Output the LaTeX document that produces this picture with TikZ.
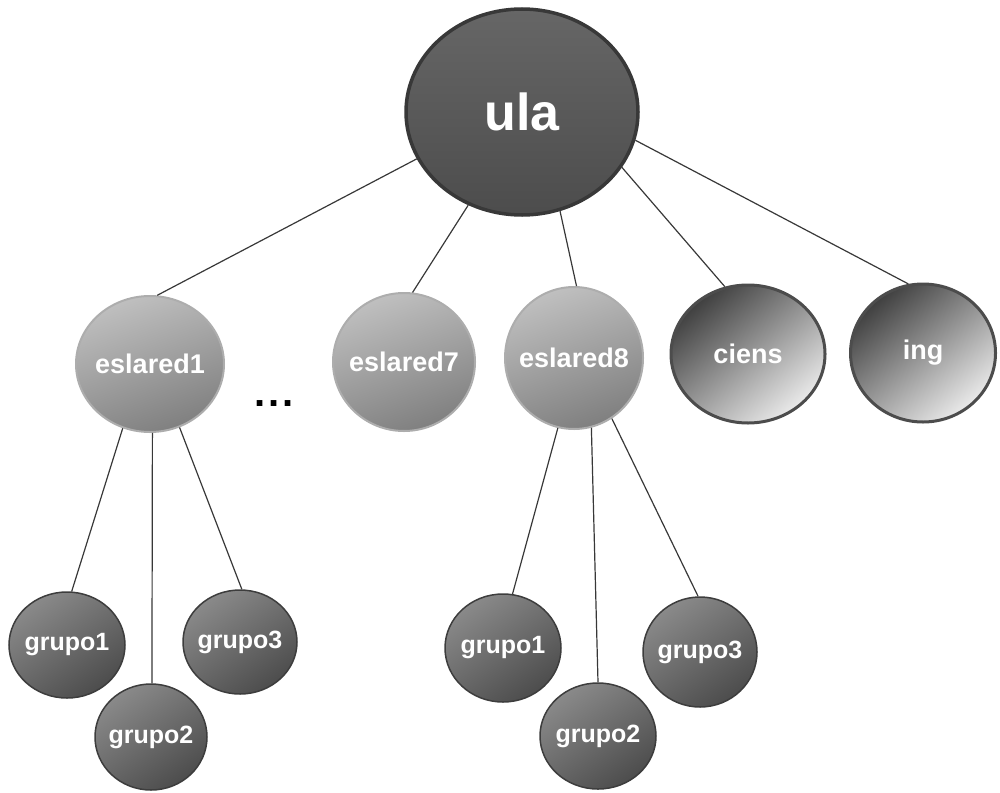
\documentclass[tikz,border=0pt]{standalone}
\usepackage{fontspec}
\setmainfont{Liberation Sans}
\usetikzlibrary{shapes.geometric}
\definecolor{edgecol}{HTML}{383838}
\newcommand\nlab[1]{\makebox[0pt][c]{#1}}
\begin{document}
\begin{tikzpicture}[x=1pt,y=-1pt,
  base/.style={ellipse, inner sep=0pt, text=white, font=\bfseries\fontsize{27}{27}\selectfont},
  root/.style={base, top color=black!60, bottom color=black!70, draw=black!78, line width=3.5pt,
     font=\bfseries\fontsize{52}{52}\selectfont},
  mid/.style={base, top color=black!25, bottom color=black!50, shading angle=20, draw=black!32, line width=2pt},
  side/.style={base, top color=black!75, bottom color=black!8, shading angle=40, draw=black!70, line width=3pt},
  leaf/.style={base, top color=black!46, bottom color=black!70, shading angle=35, draw=black!76, line width=1.5pt,
     font=\bfseries\fontsize{25}{25}\selectfont},
  link/.style={draw=edgecol, line width=1.2pt}]
\useasboundingbox (0,0) rectangle (1000,792);
\node[root, minimum width=232pt, minimum height=206pt] (ula) at (522,112) {\nlab{ula}};
\node[mid, minimum width=148pt, minimum height=136pt] (e1) at (150,364) {\nlab{eslared1}};
\node[mid, minimum width=142pt, minimum height=138pt] (e7) at (404,362) {\nlab{eslared7}};
\node[mid, minimum width=138pt, minimum height=142pt] (e8) at (574,358) {\nlab{eslared8}};
\node[side, minimum width=154pt, minimum height=138pt] (ciens) at (748,354) {\nlab{ciens}};
\node[side, minimum width=145pt, minimum height=138pt] (ing) at (923,353) {\nlab{ing}};
\node[font=\bfseries\fontsize{40}{40}\selectfont, inner sep=0pt] (dots) at (274,404) {.\kern3pt.\kern3pt.};
\node[leaf, minimum width=116pt, minimum height=106pt] (g1l) at (67,645) {\nlab{grupo1}};
\node[leaf, minimum width=112pt, minimum height=106pt] (g2l) at (151,737) {\nlab{grupo2}};
\node[leaf, minimum width=114pt, minimum height=104pt] (g3l) at (240,642) {\nlab{grupo3}};
\node[leaf, minimum width=116pt, minimum height=108pt] (g1r) at (503,648) {\nlab{grupo1}};
\node[leaf, minimum width=116pt, minimum height=106pt] (g2r) at (598,736) {\nlab{grupo2}};
\node[leaf, minimum width=114pt, minimum height=110pt] (g3r) at (700,652) {\nlab{grupo3}};
\draw[link] (ula.204) -- (e1.84);
\draw[link] (ula.240) -- (e7.83);
\draw[link] (ula.291) -- (e8.88);
\draw[link] (ula.331) -- (ciens.109);
\draw[link] (ula.346) -- (ing.102);
\draw[link] (e1.247) -- (g1l.85);
\draw[link] (e1.272) -- (g2l.89);
\draw[link] (e1.295) -- (g3l.88);
\draw[link] (e8.257) -- (g1r.80);
\draw[link] (e8.284) -- (g2r.90);
\draw[link] (e8.302) -- (g3r.92);
\end{tikzpicture}
\end{document}
